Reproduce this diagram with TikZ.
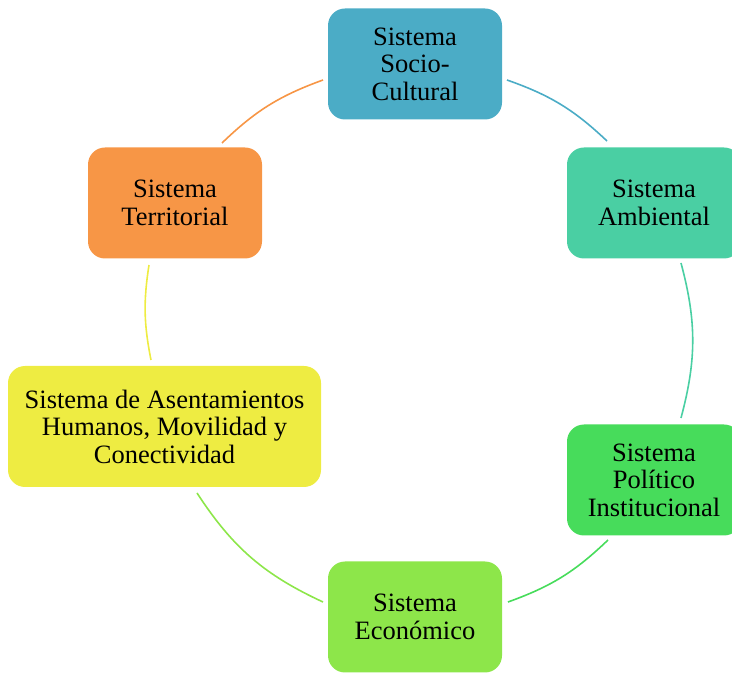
\documentclass[tikz,border=0pt]{standalone}
\usepackage{fontspec}
\setmainfont{Liberation Serif}
\definecolor{socioblue}{HTML}{4BACC6}
\definecolor{ambmint}{HTML}{4ACFA3}
\definecolor{polgreen}{HTML}{47DC5B}
\definecolor{ecolime}{HTML}{8DE64A}
\definecolor{asentyellow}{HTML}{EEEC42}
\definecolor{terrorange}{HTML}{F79646}
\begin{document}
\begin{tikzpicture}[x=1pt,y=1pt,
		sysbox/.style={rounded corners=17pt,minimum width=174pt,minimum height=111pt,
			inner sep=0pt,align=center,font=\fontsize{26.5}{27.5}\selectfont},
		cyc/.style={line width=1.6pt}]
		\clip (0,0) rectangle (732,673);
		\useasboundingbox (0,0) rectangle (732,673);

		\node[sysbox,fill=socioblue] (socio) at (415,609) {Sistema\\Socio-\\Cultural};
		\node[sysbox,fill=ambmint] (ambiental) at (654,470) {Sistema\\Ambiental};
		\node[sysbox,fill=polgreen] (politico) at (654,193) {Sistema\\Político\\Institucional};
		\node[sysbox,fill=ecolime] (economico) at (415,56) {Sistema\\Económico};
		\node[sysbox,fill=asentyellow,minimum width=313pt,minimum height=121pt] (asent) at (164.5,246.5)
			{Sistema de Asentamientos\\Humanos, Movilidad y\\Conectividad};
		\node[sysbox,fill=terrorange] (territorial) at (175,470) {Sistema\\Territorial};

		\coordinate (socio-out) at (507,593);
		\coordinate (amb-in) at (607,532);
		\coordinate (amb-out) at (681,410);
		\coordinate (pol-in) at (681,255);
		\coordinate (pol-out) at (608,133);
		\coordinate (eco-in) at (508,71);
		\coordinate (eco-out) at (323,71);
		\coordinate (asent-in) at (197,180);
		\coordinate (asent-out) at (151,313);
		\coordinate (terr-in) at (149,408);
		\coordinate (terr-out) at (222,530);
		\coordinate (socio-in) at (323,593);

		\draw[cyc,socioblue] (socio-out) to[bend left=12] (amb-in);
		\draw[cyc,ambmint] (amb-out) to[bend left=15] (pol-in);
		\draw[cyc,polgreen] (pol-out) to[bend left=12] (eco-in);
		\draw[cyc,ecolime] (eco-out) to[bend left=16] (asent-in);
		\draw[cyc,asentyellow] (asent-out) to[bend left=10] (terr-in);
		\draw[cyc,terrorange] (terr-out) to[bend left=12] (socio-in);
	\end{tikzpicture}
\end{document}
